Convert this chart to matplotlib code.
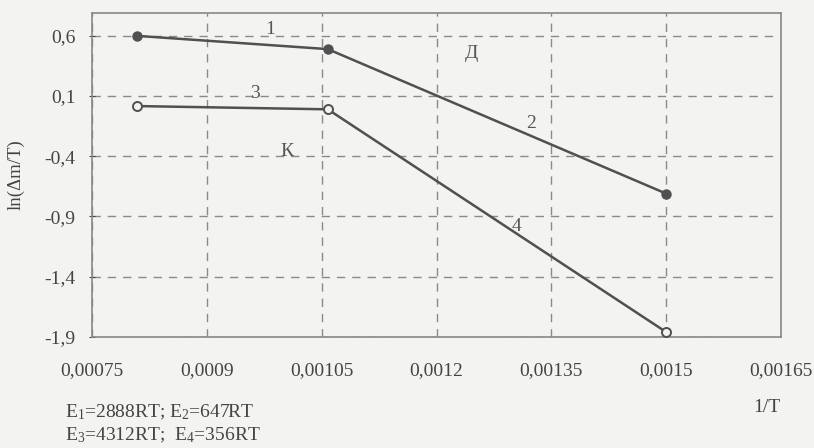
import matplotlib.pyplot as plt

plt.rcParams['font.family'] = ['Liberation Serif', 'DejaVu Serif']
plt.rcParams['mathtext.fontset'] = 'custom'
plt.rcParams['mathtext.rm'] = 'Liberation Serif'
plt.rcParams['mathtext.it'] = 'Liberation Serif:italic'
plt.rcParams['mathtext.default'] = 'regular'

# 1/T values and ln(dm/T)
x_pts = [0.000809, 0.001058, 0.0015]
y_d = [0.6, 0.49, -0.71]     # curve Д (segments 1, 2)
y_k = [0.017, -0.01, -1.86]  # curve К (segments 3, 4)

x_ticks = [0.00075, 0.0009, 0.00105, 0.0012, 0.00135, 0.0015, 0.00165]
x_labels = ["0,00075", "0,0009", "0,00105", "0,0012", "0,00135", "0,0015", "0,00165"]
y_ticks = [0.6, 0.1, -0.4, -0.9, -1.4, -1.9]
y_labels = ["0,6", "0,1", "-0,4", "-0,9", "-1,4", "-1,9"]

# segment labels: text, x, y
seg_labels = [("1", 0.000983, 0.65), ("2", 0.001323, -0.13),
              ("3", 0.000963, 0.12), ("4", 0.001305, -0.98),
              ("Д", 0.001246, 0.45), ("К", 0.001005, -0.36)]

bg = '#f3f3f1'
fig = plt.figure(figsize=(8.14, 4.48), dpi=100, facecolor=bg)
ax = fig.add_axes([0.113, 0.248, 0.8465, 0.723], facecolor=bg)

ax.plot(x_pts, y_d, color='#505050', lw=1.8, marker='o', ms=6.5,
        mfc='#505050', mec='#505050', zorder=3)
ax.plot(x_pts, y_k, color='#505050', lw=1.8, marker='o', ms=6.5,
        mfc=bg, mec='#505050', mew=1.4, zorder=3)

for t, tx, ty in seg_labels:
    ax.text(tx, ty, t, fontsize=14, color='#555555', ha='center', va='center')

ax.set_xlim(0.00075, 0.00165)
ax.set_ylim(-1.9, 0.79)
ax.set_xticks(x_ticks)
ax.set_xticklabels(x_labels)
ax.set_yticks(y_ticks)
ax.set_yticklabels(y_labels)
ax.tick_params(labelsize=14, colors='#444444', length=4, direction='inout')
ax.tick_params(axis='y', pad=10)
ax.tick_params(axis='x', length=0, pad=18)

ax.grid(True, color='#8a8a8a', ls=(0, (6, 5)), lw=1.0)
ax.set_axisbelow(True)
for s in ax.spines.values():
    s.set_color('#888888')
    s.set_linewidth(1.2)

ax.set_ylabel("ln(Δm/T)", fontsize=13.5, color='#444444', labelpad=14)

fig.text(0.942, 0.08, "1/T", fontsize=14, color='#444444', ha='center')
fig.text(0.08, 0.069, "E$_1$=2888RT; E$_2$=647RT", fontsize=14, color='#444444')
fig.text(0.08, 0.017, "E$_3$=4312RT;  E$_4$=356RT", fontsize=14, color='#444444')

plt.savefig("out.png", dpi=100, facecolor=bg)
